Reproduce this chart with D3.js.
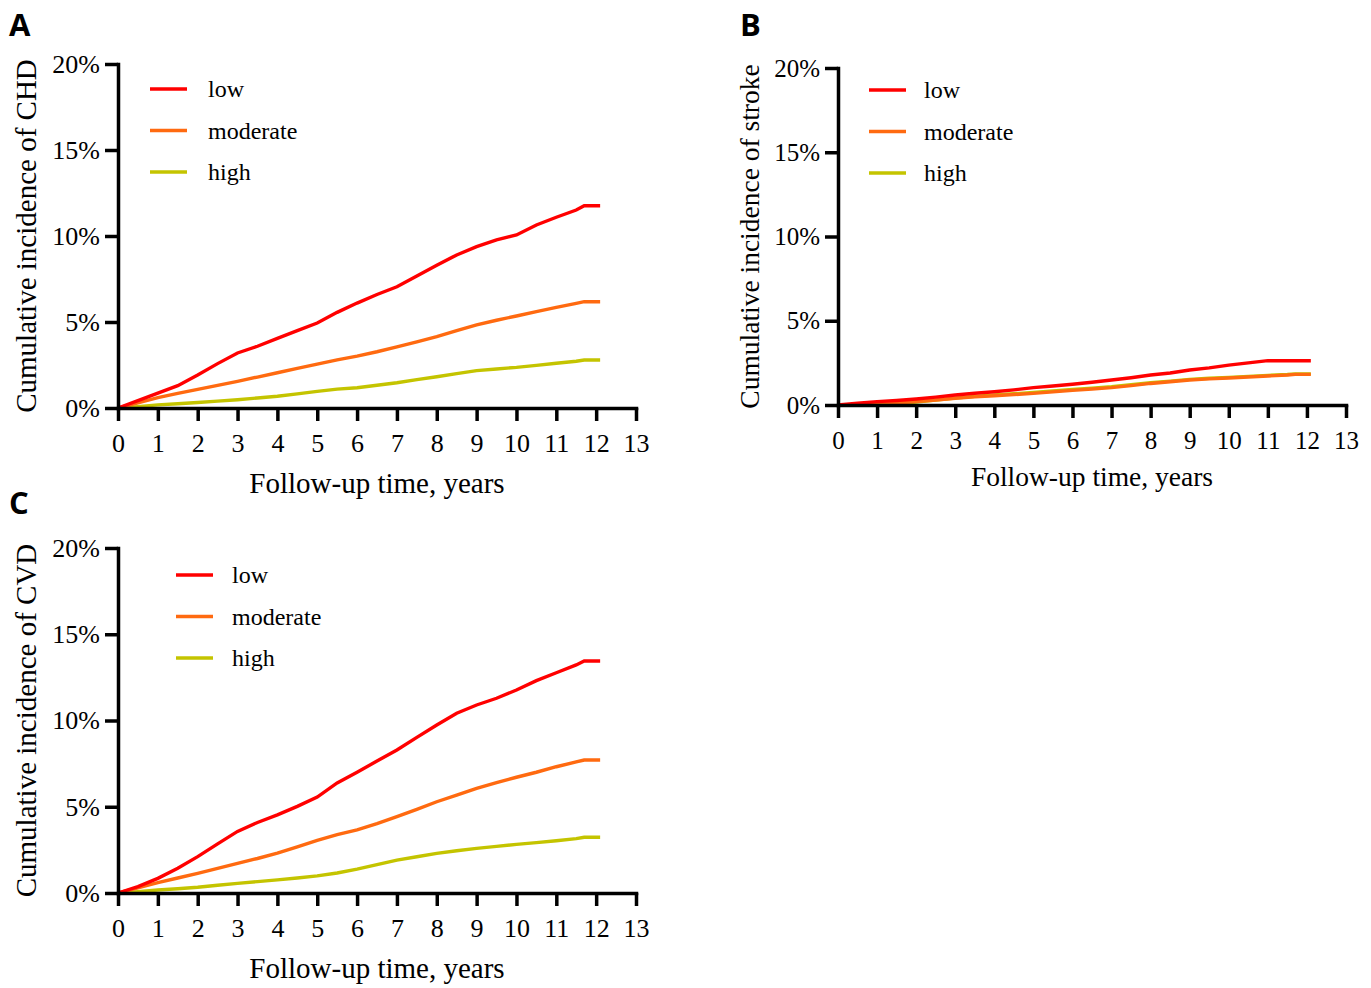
<!DOCTYPE html>
<html>
<head>
<meta charset="utf-8">
<script src="https://cdn.jsdelivr.net/npm/d3@7"></script>
<style>
  body { margin: 0; background: #fff; }
  svg { display: block; }
  .tag { font-family: 'Open Sans', 'Liberation Sans', sans-serif; font-weight: 700; fill: #000; }
</style>
</head>
<body>
<svg id="fig" width="1371" height="988"></svg>
<script>
// follow-up time (years) at which curves were read
const timesYr = [0, 0.5, 1, 1.5, 2, 2.5, 3, 3.5, 4, 4.5, 5, 5.5, 6, 6.5, 7, 7.5, 8, 8.5, 9, 9.5, 10, 10.5, 11, 11.5, 11.7, 12.1];

const groups = ['low', 'moderate', 'high'];
const groupColors = ['#ff0000', '#ff6a10', '#c4c400'];

// cumulative incidence (%), CHD
const chdLow = [0, 0.43, 0.87, 1.3, 1.92, 2.58, 3.2, 3.59, 4.05, 4.5, 4.94, 5.56, 6.1, 6.6, 7.05, 7.67, 8.3, 8.9, 9.38, 9.77, 10.06, 10.64, 11.09, 11.51, 11.76, 11.76];
const chdModerate = [0, 0.3, 0.6, 0.85, 1.08, 1.32, 1.55, 1.8, 2.05, 2.3, 2.55, 2.8, 3.02, 3.27, 3.55, 3.85, 4.15, 4.5, 4.83, 5.1, 5.35, 5.6, 5.85, 6.08, 6.18, 6.18];
const chdHigh = [0, 0.08, 0.18, 0.25, 0.32, 0.4, 0.48, 0.58, 0.68, 0.82, 0.97, 1.1, 1.18, 1.32, 1.47, 1.65, 1.82, 2.0, 2.17, 2.27, 2.36, 2.48, 2.6, 2.72, 2.79, 2.79];

// stroke
const strokeLow = [0, 0.1, 0.2, 0.27, 0.36, 0.47, 0.59, 0.7, 0.79, 0.9, 1.03, 1.13, 1.23, 1.35, 1.48, 1.62, 1.78, 1.9, 2.08, 2.2, 2.37, 2.5, 2.63, 2.63, 2.63, 2.63];
const strokeModerate = [0, 0.03, 0.06, 0.12, 0.2, 0.3, 0.4, 0.48, 0.55, 0.62, 0.69, 0.78, 0.87, 0.95, 1.03, 1.15, 1.28, 1.38, 1.48, 1.55, 1.6, 1.66, 1.72, 1.78, 1.82, 1.82];
const strokeHigh = [0, 0.02, 0.04, 0.09, 0.17, 0.29, 0.41, 0.51, 0.59, 0.67, 0.74, 0.83, 0.92, 1.0, 1.08, 1.2, 1.32, 1.42, 1.52, 1.59, 1.64, 1.7, 1.76, 1.81, 1.85, 1.85];

// CVD
const cvdLow = [0, 0.37, 0.85, 1.43, 2.11, 2.85, 3.57, 4.09, 4.53, 5.02, 5.56, 6.38, 7.0, 7.65, 8.29, 9.02, 9.74, 10.42, 10.9, 11.29, 11.77, 12.31, 12.77, 13.22, 13.45, 13.45];
const cvdModerate = [0, 0.3, 0.6, 0.87, 1.14, 1.43, 1.72, 2.0, 2.31, 2.68, 3.05, 3.38, 3.66, 4.02, 4.43, 4.85, 5.29, 5.68, 6.07, 6.4, 6.71, 7.0, 7.32, 7.6, 7.71, 7.71];
const cvdHigh = [0, 0.08, 0.17, 0.25, 0.33, 0.45, 0.56, 0.66, 0.76, 0.87, 0.99, 1.16, 1.38, 1.65, 1.91, 2.1, 2.3, 2.45, 2.59, 2.7, 2.82, 2.92, 3.03, 3.15, 3.23, 3.23];

const xTickValues = d3.range(0, 14);
const yTickValues = [0, 5, 10, 15, 20];

const SERIF = "'Liberation Serif', 'Times New Roman', serif";

const panels = [
  { tag: 'A', ytitle: 'Cumulative incidence of CHD', series: [chdLow, chdModerate, chdHigh],
    left: 118, right: 636, top: 64, bottom: 408, tagX: 9, tagY: 36, ytitleX: 36, legX: 150, legY: 89, legTextX: 208,
    tickFont: 26, titleFont: 29, xtitleDy: 85 },
  { tag: 'B', ytitle: 'Cumulative incidence of stroke', series: [strokeLow, strokeModerate, strokeHigh],
    left: 838, right: 1346, top: 68, bottom: 405, tagX: 740, tagY: 36, ytitleX: 759, legX: 869, legY: 90, legTextX: 924,
    tickFont: 25, titleFont: 27.5, xtitleDy: 81 },
  { tag: 'C', ytitle: 'Cumulative incidence of CVD', series: [cvdLow, cvdModerate, cvdHigh],
    left: 118, right: 636, top: 548, bottom: 893, tagX: 9, tagY: 514, ytitleX: 36, legX: 176, legY: 575, legTextX: 232,
    tickFont: 26, titleFont: 29, xtitleDy: 85 },
];

const svg = d3.select('#fig');

function drawPanel(p) {
  const x = d3.scaleLinear().domain([0, 13]).range([p.left, p.right]);
  const y = d3.scaleLinear().domain([0, 20]).range([p.bottom, p.top]);
  const g = svg.append('g');

  g.append('text').attr('class', 'tag').attr('x', p.tagX).attr('y', p.tagY)
    .attr('font-size', 31).text(p.tag);

  // curves (high first so low sits on top)
  const line = d3.line().x((d, i) => x(timesYr[i])).y((d) => y(d));
  [2, 1, 0].forEach((k) => {
    g.append('path').datum(p.series[k])
      .attr('fill', 'none').attr('stroke', groupColors[k])
      .attr('stroke-width', 3.4).attr('stroke-linejoin', 'miter')
      .attr('d', line);
  });

  const xAxis = g.append('g').attr('transform', `translate(0,${p.bottom})`)
    .call(d3.axisBottom(x).tickValues(xTickValues).tickSize(13).tickSizeOuter(0).tickPadding(13).tickFormat(d3.format('d')));
  const yAxis = g.append('g').attr('transform', `translate(${p.left},0)`)
    .call(d3.axisLeft(y).tickValues(yTickValues).tickSize(13).tickSizeOuter(0).tickPadding(5).tickFormat((d) => `${d}%`));
  [xAxis, yAxis].forEach((a) => {
    a.attr('font-family', SERIF).attr('font-size', p.tickFont);
    a.select('.domain').attr('stroke', '#000').attr('stroke-width', 3.5).attr('stroke-linecap', 'square');
    a.selectAll('.tick line').attr('stroke', '#000').attr('stroke-width', 3.5);
    a.selectAll('.tick text').attr('fill', '#000').style('font-family', SERIF);
  });

  g.append('text').style('font-family', SERIF).attr('font-size', p.titleFont)
    .attr('text-anchor', 'middle')
    .attr('x', (p.left + p.right) / 2).attr('y', p.bottom + p.xtitleDy)
    .text('Follow-up time, years');

  g.append('text').style('font-family', SERIF).attr('font-size', p.titleFont)
    .attr('text-anchor', 'middle')
    .attr('transform', `translate(${p.ytitleX},${(p.top + p.bottom) / 2}) rotate(-90)`)
    .text(p.ytitle);

  groups.forEach((name, k) => {
    const ly = p.legY + k * 41.5;
    g.append('line').attr('x1', p.legX).attr('x2', p.legX + 37)
      .attr('y1', ly).attr('y2', ly)
      .attr('stroke', groupColors[k]).attr('stroke-width', 3.5);
    g.append('text').style('font-family', SERIF).attr('font-size', 24)
      .attr('x', p.legTextX).attr('y', ly + 8).text(name);
  });
}

panels.forEach(drawPanel);
</script>
</body>
</html>
